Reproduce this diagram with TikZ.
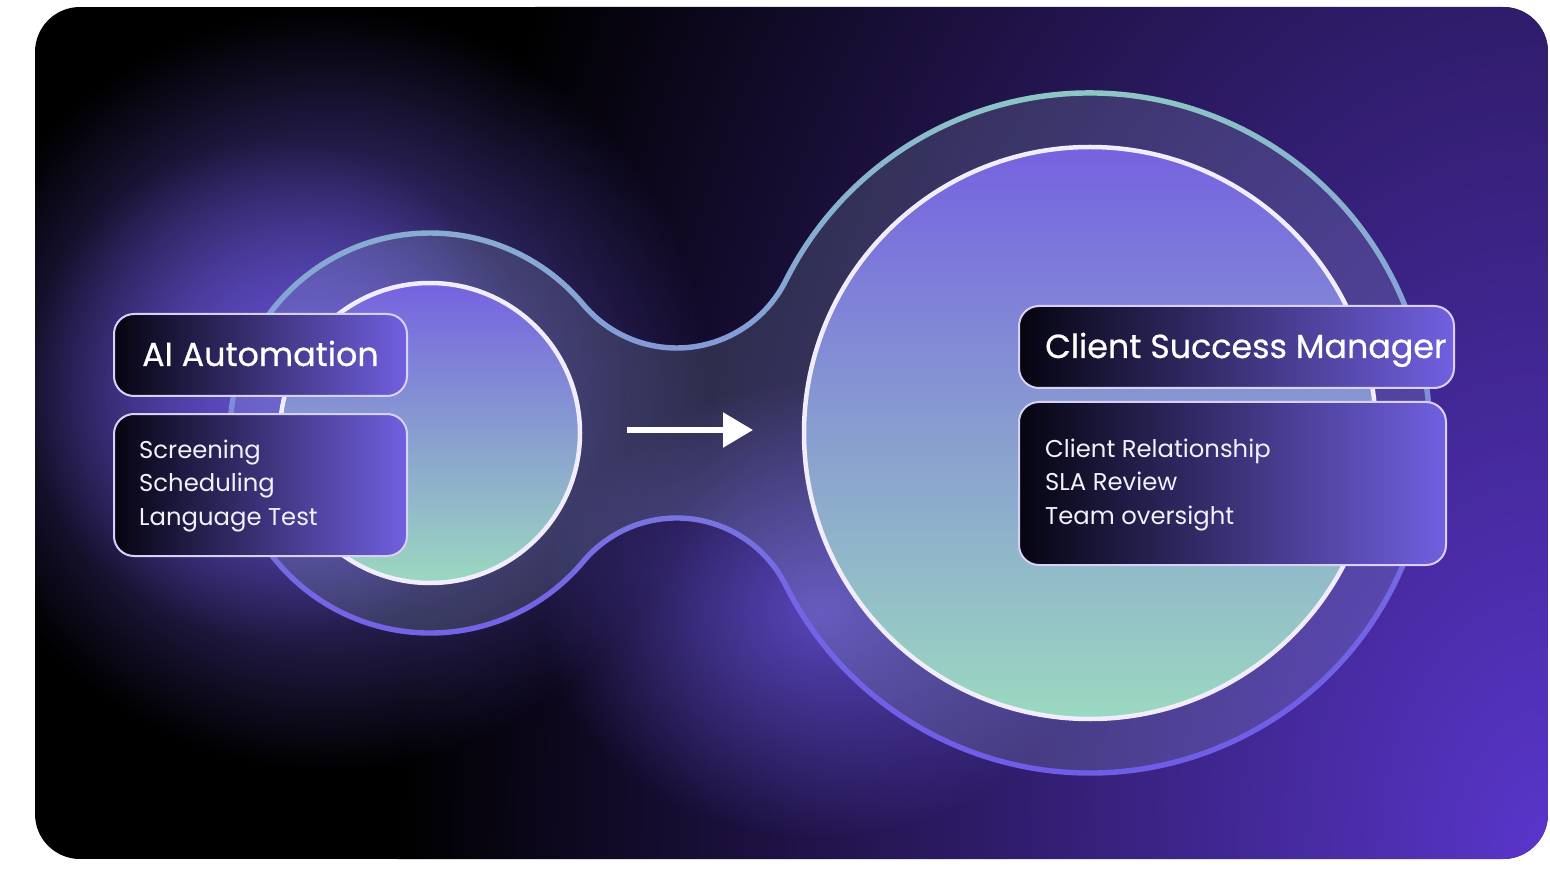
\documentclass[tikz,border=0pt]{standalone}
\usepackage{fontspec}
\setmainfont{Poppins}
\newfontfamily\titlefam{Poppins}[FakeBold=0.6]
\usetikzlibrary{arrows.meta,fadings}

\definecolor{bgpurple}{HTML}{5A36CC}
\definecolor{glowc}{HTML}{6652D6}
\definecolor{tint}{HTML}{A8C8DC}
\definecolor{circtop}{HTML}{7562E0}
\definecolor{circbot}{HTML}{9BD9C0}
\definecolor{circedge}{HTML}{F1EDFF}
\definecolor{boxl}{HTML}{050410}
\definecolor{boxr}{HTML}{7160E0}
\definecolor{boxedge}{HTML}{D8D0F5}
\definecolor{detc}{HTML}{F2F0FA}
\definecolor{ringA}{HTML}{6E5AE8}
\definecolor{ringB}{HTML}{7466E4}
\definecolor{ringC}{HTML}{7C86DC}
\definecolor{ringD}{HTML}{86A2D6}
\definecolor{ringE}{HTML}{8AB8CC}
\definecolor{ringF}{HTML}{90D2BE}

\tikzfading[name=glowfade, inner color=transparent!0, outer color=transparent!100]
\pgfdeclareverticalshading{ringshade}{100bp}{color(0bp)=(ringA); color(25bp)=(ringA); color(40bp)=(ringB); color(50bp)=(ringC); color(58bp)=(ringD); color(68bp)=(ringE); color(75bp)=(ringF); color(100bp)=(ringF)}

% outline of the two joined rings, offset by #1
\newcommand\blobpath[1]{(430,433) ++(-40:{200+(#1)})
  arc[start angle=-40,end angle=-320,radius={200+(#1)}]
  arc[start angle=-140,end angle=-26.62,radius={122-(#1)}]
  arc[start angle=153.38,end angle=-153.38,radius={340+(#1)}]
  arc[start angle=26.62,end angle=140,radius={122-(#1)}] -- cycle}
\newcommand\blobrev[1]{(430,433) ++(-40:{200+(#1)})
  arc[start angle=140,end angle=26.62,radius={122-(#1)}]
  arc[start angle=-153.38,end angle=153.38,radius={340+(#1)}]
  arc[start angle=-26.62,end angle=-140,radius={122-(#1)}]
  arc[start angle=-320,end angle=-40,radius={200+(#1)}] -- cycle}

\tikzset{
  infobox/.style={draw=boxedge, line width=2pt, rounded corners=20pt,
    left color=boxl, right color=boxr, inner sep=0pt, anchor=north west},
  bubble/.style={circle, inner sep=0pt, draw=circedge, line width=4.5pt,
    top color=circtop, bottom color=circbot},
  titletext/.style={anchor=base west, inner sep=0pt, text=white,
    font=\titlefam\fontsize{33.3}{40}\selectfont},
  listtext/.style={anchor=base west, inner sep=0pt, text=detc,
    font=\fontsize{24.3}{33.8}\selectfont},
  glow/.style={fill=glowc, path fading=glowfade}
}

\begin{document}
\begin{tikzpicture}[x=1pt,y=-1pt]
\useasboundingbox (0,0) rectangle (1550,890);
\fill[white] (0,0) rectangle (1550,890);

% background panel with glows
\begin{scope}
  \clip[rounded corners=45pt] (35,7) rectangle (1548,859);
  \fill[black] (35,7) rectangle (1548,859);
  \shade[inner color=bgpurple, outer color=black] (1548,860) ellipse [x radius=1150, y radius=1800];
  \fill[glow, opacity=0.95] (330,390) circle (380);
  \fill[glow, opacity=0.8] (275,390) circle (250);
  \fill[glow, opacity=0.8] (820,610) ellipse [x radius=280, y radius=230];
\end{scope}

% translucent interior of the joined rings
\fill[tint, fill opacity=0.18] \blobpath{0};
% ring outline with gradient
\shade[shading=ringshade] \blobpath{2.7} \blobrev{-2.7};

% inner circles
\node[bubble, minimum size=300pt] (smallc) at (430,433) {};
\node[bubble, minimum size=572pt] (bigc) at (1090,433) {};

% arrow
\coordinate (arrS) at (627,430);
\coordinate (arrE) at (753,430);
\draw[white, line width=5.5pt, -{Triangle[length=30pt,width=34pt]}] (arrS) -- (arrE);

% left boxes
\node[infobox, minimum width=293pt, minimum height=82pt] (aibox) at (113,313) {};
\node[infobox, minimum width=293pt, minimum height=142pt] (aidet) at (113,413) {};
\node[titletext] (aititle) at (142,366) {AI Automation};
\node[listtext] (ailist) at (139,458) {\begin{tabular}[t]{@{}l@{}}Screening\\Scheduling\\Language Test\end{tabular}};

% right boxes
\node[infobox, minimum width=435pt, minimum height=82pt] (csbox) at (1018,305) {};
\node[infobox, minimum width=427pt, minimum height=163pt] (csdet) at (1018,401) {};
\node[titletext] (cstitle) at (1045,358) {Client Success Manager};
\node[listtext] (cslist) at (1045,457) {\begin{tabular}[t]{@{}l@{}}Client Relationship\\SLA Review\\Team oversight\end{tabular}};
\end{tikzpicture}
\end{document}
